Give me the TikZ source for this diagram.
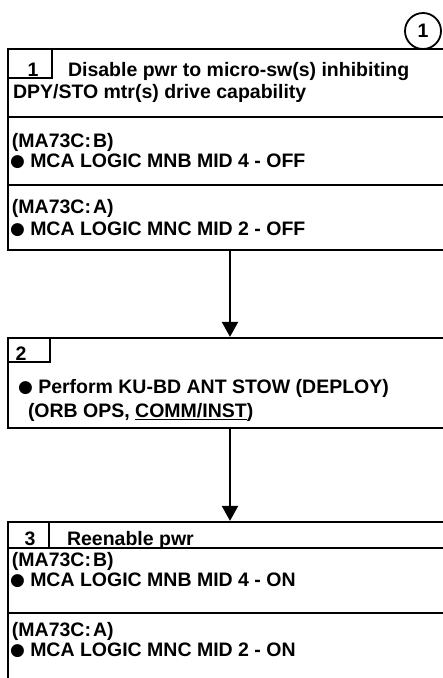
\documentclass[tikz,border=0pt]{standalone}
\usepackage{fontspec}
\usetikzlibrary{arrows.meta}
\newfontfamily\lsf{Liberation Sans Bold}
\newfontfamily\dvs{DejaVu Sans}
\newcommand\blt{\raisebox{0.5pt}{\dvs\fontsize{17pt}{17pt}\selectfont ●}}
\tikzset{
  txt/.style={inner sep=0pt, outer sep=0pt, anchor=base west, font=\lsf\fontsize{19.5pt}{20pt}\selectfont},
  num/.style={txt, anchor=base},
  boxline/.style={draw, line width=2.2pt},
  stepbox/.style={draw, line width=2.2pt, inner sep=0pt, minimum width=444pt},
  flow/.style={line width=2.2pt, -{Triangle[length=15pt,width=16pt]}}
}
\begin{document}
\begin{tikzpicture}[x=1pt,y=-1pt]
\useasboundingbox (0,0) rectangle (443,678);
\clip (0,0) rectangle (443,678);
% circled step marker
\node[draw, circle, line width=1.8pt, minimum size=36pt, inner sep=0pt, font=\lsf\fontsize{19.5pt}{20pt}\selectfont] (mark) at (423,31) {1};
% box 1
\node[stepbox, minimum height=201pt] (b1) at (230,149.5) {};
\draw[boxline] (8,78) -- (52,78) -- (52,49);
\draw[boxline] (8,117) -- (443,117);
\draw[boxline] (8,185) -- (443,185);
\node[num] (n1) at (33,76) {1};
\node[txt] (t1a) at (68,76) {Disable pwr to micro-sw(s) inhibiting};
\node[txt] (t1b) at (13,98) {DPY/STO mtr(s) drive capability};
\node[txt] (t1c) at (12,147) {(MA73C:\kern2pt B)};
\node[txt] (t1d) at (10,167) {\blt\ MCA LOGIC MNB MID 4 - OFF};
\node[txt] (t1e) at (12,213) {(MA73C:\kern2pt A)};
\node[txt] (t1f) at (10,235) {\blt\ MCA LOGIC MNC MID 2 - OFF};
% box 2
\node[stepbox, minimum height=90pt] (b2) at (230,383) {};
\draw[boxline] (8,362) -- (50,362) -- (50,338);
\node[num] (n2) at (21,360) {2};
\node[txt] (t2a) at (18,393) {\blt\ Perform KU-BD ANT STOW (DEPLOY)};
\node[txt] (t2b) at (28,417) {(ORB OPS, \underline{COMM/INST})};
% box 3
\node[stepbox, minimum height=178pt] (b3) at (230,611) {};
\draw[boxline] (49,522) -- (49,548);
\draw[boxline] (8,548) -- (443,548);
\draw[boxline] (8,613) -- (443,613);
\node[num] (n3) at (30,545) {3};
\node[txt] (t3a) at (67,545) {Reenable pwr};
\node[txt] (t3b) at (12,566) {(MA73C:\kern2pt B)};
\node[txt] (t3c) at (10,586) {\blt\ MCA LOGIC MNB MID 4 - ON};
\node[txt] (t3d) at (12,636) {(MA73C:\kern2pt A)};
\node[txt] (t3e) at (10,656) {\blt\ MCA LOGIC MNC MID 2 - ON};
% connectors
\draw[flow] (b1.south) -- (b2.north);
\draw[flow] (b2.south) -- (b3.north);
\end{tikzpicture}
\end{document}
